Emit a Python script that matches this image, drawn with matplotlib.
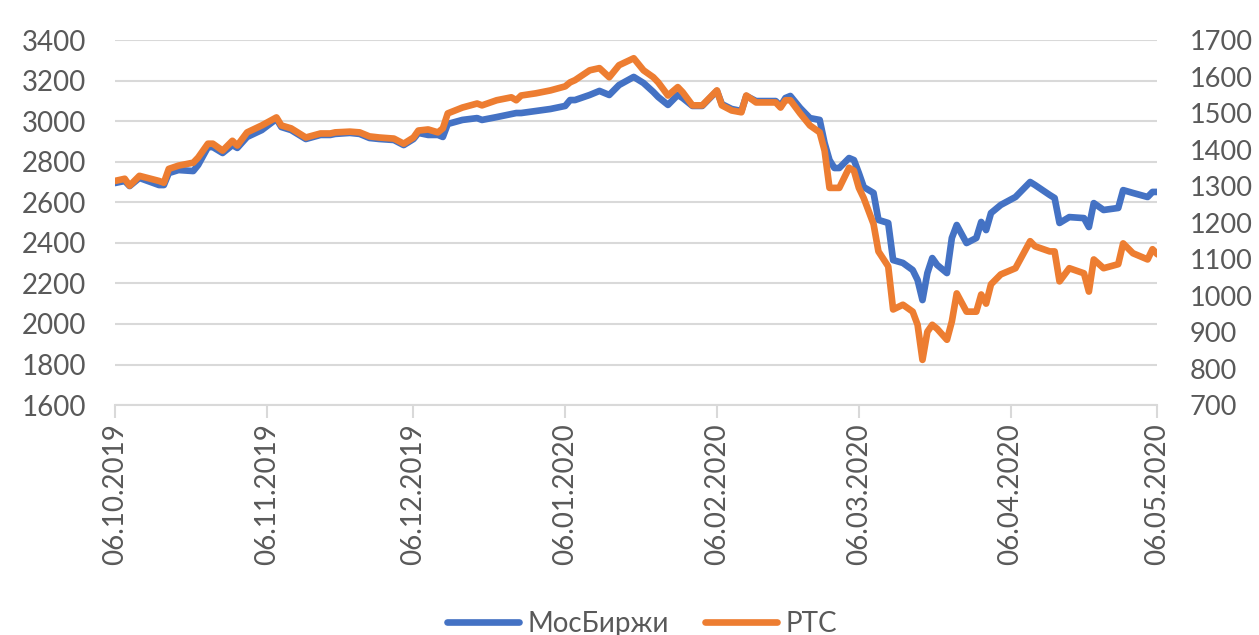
import matplotlib
matplotlib.use("Agg")
import matplotlib.pyplot as plt
import matplotlib.dates as mdates
import pandas as pd

plt.rcParams['font.family'] = ['Lato', 'DejaVu Sans']

base_date = "2019-10-06"
day_offsets = [0, 2, 3, 5, 9, 10, 11, 13, 16, 17, 19, 20, 22, 24, 25, 27, 30,
               33, 34, 36, 39, 42, 44, 45, 48, 50, 52, 54, 57, 59, 61, 62,
               64, 66, 67, 68, 71, 74, 75, 78, 81, 82, 83, 86, 89, 92, 93,
               94, 97, 99, 101, 103, 106, 108, 110, 111, 113, 115, 116, 118, 120, 123,
               124, 126, 128, 129, 131, 135, 136, 137, 138, 140, 142, 144, 145, 146,
               147, 148, 150, 151, 152, 153, 155, 156, 158, 159, 161, 163, 164, 165,
               166, 167, 168, 170, 171, 172, 174, 176, 177, 178, 179, 181, 184,
               187, 188, 191, 192, 193, 195, 198, 199, 200, 202, 205, 206, 208, 211, 212, 213]

moex = [2695, 2705, 2680, 2720, 2685, 2685, 2744, 2759, 2754, 2784, 2872, 2872, 2843, 2882, 2868, 2922, 2956,
        3011, 2971, 2956, 2912, 2932, 2932, 2937, 2942, 2937, 2917, 2912, 2907, 2882, 2912, 2942,
        2932, 2932, 2922, 2986, 3006, 3015, 3006, 3020, 3035, 3040, 3040, 3050, 3060, 3075, 3104,
        3104, 3129, 3149, 3129, 3178, 3218, 3188, 3144, 3119, 3080, 3129, 3114, 3075, 3075, 3149,
        3084, 3060, 3050, 3124, 3099, 3099, 3075, 3114, 3124, 3065, 3015, 3006, 2892, 2808,
        2769, 2769, 2818, 2808, 2744, 2675, 2646, 2513, 2498, 2315, 2301, 2266, 2217, 2118,
        2251, 2325, 2291, 2251, 2424, 2488, 2399, 2424, 2503, 2463, 2547, 2587, 2626,
        2700, 2685, 2636, 2621, 2498, 2527, 2522, 2478, 2596, 2562, 2572, 2660, 2646, 2626, 2651, 2651]

rts = [1314, 1320, 1301, 1328, 1314, 1309, 1347, 1356, 1364, 1378, 1416, 1416, 1397, 1424, 1411, 1447, 1466,
       1488, 1466, 1458, 1433, 1444, 1444, 1447, 1449, 1447, 1436, 1433, 1430, 1416, 1433, 1452,
       1455, 1447, 1458, 1499, 1515, 1526, 1521, 1535, 1543, 1535, 1548, 1554, 1562, 1573, 1584,
       1590, 1617, 1623, 1598, 1631, 1650, 1617, 1598, 1584, 1548, 1571, 1557, 1521, 1521, 1562,
       1521, 1507, 1502, 1548, 1529, 1529, 1515, 1535, 1535, 1499, 1466, 1447, 1397, 1295,
       1295, 1295, 1350, 1342, 1295, 1267, 1196, 1121, 1080, 962, 975, 956, 920, 824,
       901, 920, 909, 879, 929, 1006, 956, 956, 1003, 978, 1031, 1058, 1075,
       1149, 1135, 1121, 1121, 1039, 1075, 1061, 1011, 1099, 1075, 1086, 1143, 1116, 1099, 1127, 1113]

series_names = ["МосБиржи", "РТС"]
tick_dates = ["2019-10-06", "2019-11-06", "2019-12-06", "2020-01-06",
              "2020-02-06", "2020-03-06", "2020-04-06", "2020-05-06"]
left_ticks = [1600, 1800, 2000, 2200, 2400, 2600, 2800, 3000, 3200, 3400]
right_ticks = [700, 800, 900, 1000, 1100, 1200, 1300, 1400, 1500, 1600, 1700]

dates = pd.Timestamp(base_date) + pd.to_timedelta(day_offsets, unit="D")

blue = "#4472C4"
orange = "#ED7D31"
grid_c = "#D9D9D9"
text_c = "#595959"

fig = plt.figure(figsize=(12.59, 6.35), dpi=100)
ax = fig.add_axes([0.0913, 0.362, 0.828, 0.575])
ax2 = ax.twinx()
ax2.patch.set_visible(False)

l1, = ax.plot(dates, moex, color=blue, lw=4.8, solid_joinstyle="round",
              solid_capstyle="round", zorder=3)
l2, = ax2.plot(dates, rts, color=orange, lw=4.8, solid_joinstyle="round",
               solid_capstyle="round", zorder=4)

ax.set_ylim(1600, 3400)
ax2.set_ylim(700, 1700)
ax.set_yticks(left_ticks)
ax2.set_yticks(right_ticks)
ax.set_xlim(pd.Timestamp(tick_dates[0]), pd.Timestamp(tick_dates[-1]))
ax.set_xticks([pd.Timestamp(d) for d in tick_dates])
ax.xaxis.set_major_formatter(mdates.DateFormatter("%d.%m.%Y"))

ax.grid(axis="y", color=grid_c, lw=1.5)
ax.set_axisbelow(True)
for a in (ax, ax2):
    for s in ("top", "left", "right", "bottom"):
        a.spines[s].set_visible(False)
ax.spines["bottom"].set_visible(True)
ax.spines["bottom"].set_color(grid_c)
ax.spines["bottom"].set_linewidth(1.5)

ax.tick_params(axis="y", length=0, pad=21, labelsize=20, labelcolor=text_c)
ax2.tick_params(axis="y", length=0, pad=23, labelsize=19.5, labelcolor=text_c)
ax.tick_params(axis="x", length=9, width=1.5, color=grid_c, pad=4, labelsize=20,
               labelcolor=text_c, labelrotation=90)

fig.legend([l1, l2], series_names, loc="center", bbox_to_anchor=(0.51, 0.017),
           ncol=2, frameon=False, fontsize=20, handlelength=2.6, handletextpad=0.3,
           columnspacing=1.3, labelcolor=text_c)

fig.savefig("out.png", dpi=100)
